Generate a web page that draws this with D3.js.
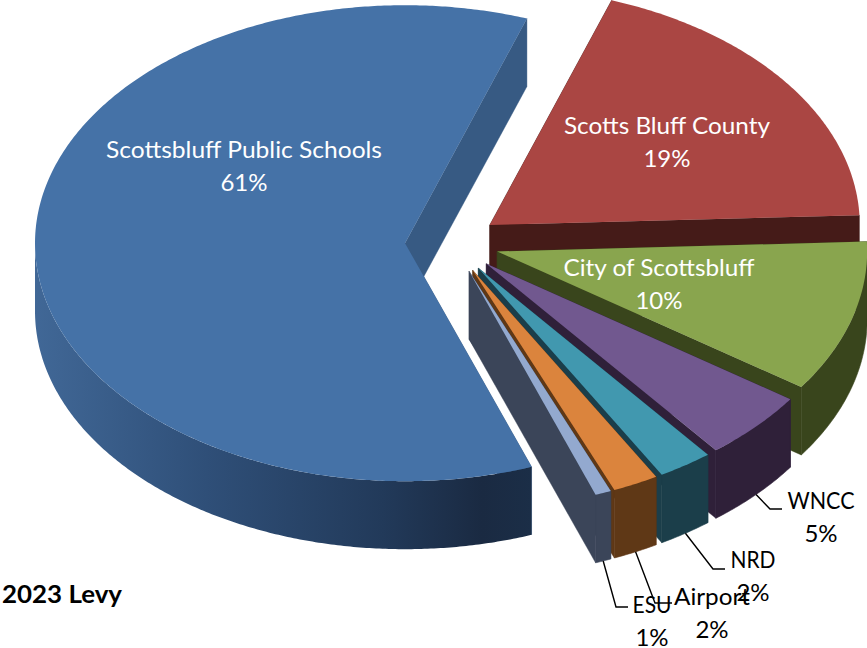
<!DOCTYPE html>
<html>
<head>
<meta charset="utf-8">
<script src="https://cdnjs.cloudflare.com/ajax/libs/d3/7.8.5/d3.min.js"></script>
<style>
  html, body { margin: 0; padding: 0; background: #fff; }
  svg { display: block; }
  text { font-family: Lato, "Open Sans", sans-serif; }
</style>
</head>
<body>
<svg id="chart" width="867" height="648"></svg>
<script>
// 2023 levy shares by taxing entity, in percent; labels show them rounded
const categories = ["Scottsbluff Public Schools", "Scotts Bluff County", "City of Scottsbluff", "WNCC", "NRD", "Airport", "ESU"];
const shares = [60.9, 19.0, 10.3, 4.7, 2.4, 2.0, 0.7];
const topColors = ["#4572a7", "#aa4643", "#89a54e", "#71588f", "#4198af", "#db843d", "#93a9cf"];
const wallColors = ["#375a83", "#451b18", "#39451c", "#2f2039", "#1b3e4a", "#5f3816", "#3b4559"];

const deg = Math.PI / 180;
const turn = 2 * Math.PI;

// Tilted disc: an ellipse with a fixed extrusion depth, each wedge pushed out along its bisector
const disc = { cx: 452, cy: 243, rx: 370, ry: 238, depth: 68, explode: 0.127, start: 160 * deg };
const fontSize = 24;

const svg = d3.select("#chart");
const defs = svg.append("defs");

const pie = d3.pie().sort(null).startAngle(disc.start).endAngle(disc.start + turn);
const slices = pie(shares).map((d, i) => {
  // Wedges past the 12 o'clock seam are brought back into the first turn
  const wrap = d.startAngle >= turn ? turn : 0;
  const startAngle = d.startAngle - wrap, endAngle = d.endAngle - wrap;
  const mid = (startAngle + endAngle) / 2;
  return {
    i, startAngle, endAngle, mid,
    x0: disc.cx + Math.sin(mid) * disc.rx * disc.explode,
    y0: disc.cy - Math.cos(mid) * disc.ry * disc.explode
  };
});

const rimX = (s, a) => s.x0 + Math.sin(a) * disc.rx;
const rimY = (s, a) => s.y0 - Math.cos(a) * disc.ry;
const line = d3.line().x(p => p[0]).y(p => p[1]);

function arcPoints(s, a0, a1, dy = 0) {
  const n = Math.max(2, Math.ceil((a1 - a0) / (0.5 * deg)));
  return d3.range(n + 1).map(k => {
    const a = a0 + (a1 - a0) * k / n;
    return [rimX(s, a), rimY(s, a) + dy];
  });
}

// Horizontal shading of the long outer wall of the largest wedge
const wallGrad = defs.append("linearGradient")
  .attr("id", "schoolWall")
  .attr("gradientUnits", "userSpaceOnUse")
  .attr("x1", disc.cx - 420).attr("x2", disc.cx + 80)
  .attr("y1", 0).attr("y2", 0);
[[0, "#416897"], [0.35, "#2f4f78"], [0.7, "#223a5a"], [0.9, "#1a2a42"], [1, "#1b2e47"]]
  .forEach(([o, c]) => wallGrad.append("stop").attr("offset", o).attr("stop-color", c));

const groups = svg.selectAll("g.slice").data(slices).join("g").attr("class", "slice");

groups.each(function (s) {
  const g = d3.select(this);
  const wall = wallColors[s.i];
  const d = disc.depth;

  // Cut faces along both radial edges; the hidden one ends up under the top face
  [s.startAngle, s.endAngle].forEach(a => {
    const rx = rimX(s, a), ry = rimY(s, a);
    g.append("path")
      .attr("d", line([[s.x0, s.y0], [rx, ry], [rx, ry + d], [s.x0, s.y0 + d]]) + "Z")
      .attr("fill", wall).attr("stroke", wall).attr("stroke-width", 0.4);
  });

  // Outer wall: only the stretch between 90° and 270° faces the viewer
  const a0 = Math.max(s.startAngle, 90 * deg), a1 = Math.min(s.endAngle, 270 * deg);
  if (a1 > a0) {
    const pts = arcPoints(s, a0, a1).concat(arcPoints(s, a0, a1, d).reverse());
    const schools = s.i === 0;
    g.append("path").attr("d", line(pts) + "Z")
      .attr("fill", schools ? "url(#schoolWall)" : wall)
      .attr("stroke", schools ? "none" : wall).attr("stroke-width", 0.6);
  }

  // Top face
  const top = [[s.x0, s.y0]].concat(arcPoints(s, s.startAngle, s.endAngle));
  g.append("path").attr("d", line(top) + "Z").attr("fill", topColors[s.i]);
});

// Label placement: anchor centre, first baseline, and the elbow of the leader where there is one
const labelLayout = [
  { x: 244, y: 158, fill: "#fff", fit: 276 },
  { x: 667, y: 134, fill: "#fff", fit: 206 },
  { x: 659, y: 276, fill: "#fff", fit: 191 },
  { x: 821, y: 509, fill: "#000", fit: 67, elbow: [770, 509], end: 782 },
  { x: 753, y: 568, fill: "#000", fit: 45, elbow: [713, 569], end: 725 },
  { x: 712, y: 605, fill: "#000", fit: 76, elbow: [655, 603], end: 672 },
  { x: 652, y: 613, fill: "#000", fit: 39, elbow: [616, 607], end: 628 }
];
const lineGap = 32.5;

// Leader lines leave the bottom of the outer wall at each wedge's bisector
slices.forEach((s, i) => {
  const l = labelLayout[i];
  if (!l.elbow) return;
  const from = [rimX(s, s.mid), rimY(s, s.mid) + disc.depth];
  svg.append("path")
    .attr("d", line([from, l.elbow, [l.end, l.elbow[1]]]))
    .attr("fill", "none").attr("stroke", "#000").attr("stroke-width", 1.4);
});

slices.forEach((s, i) => {
  const l = labelLayout[i];
  const t = svg.append("text")
    .attr("text-anchor", "middle")
    .attr("font-size", fontSize)
    .attr("fill", l.fill);
  t.append("tspan").attr("x", l.x).attr("y", l.y)
    .attr("textLength", l.fit).attr("lengthAdjust", "spacingAndGlyphs")
    .text(categories[i]);
  t.append("tspan").attr("x", l.x).attr("y", l.y + lineGap).text(Math.round(shares[i]) + "%");
});

svg.append("text")
  .attr("x", 2).attr("y", 603)
  .attr("font-size", 24).attr("font-weight", 700).attr("fill", "#000")
  .attr("textLength", 120).attr("lengthAdjust", "spacingAndGlyphs")
  .text("2023 Levy");
</script>
</body>
</html>
